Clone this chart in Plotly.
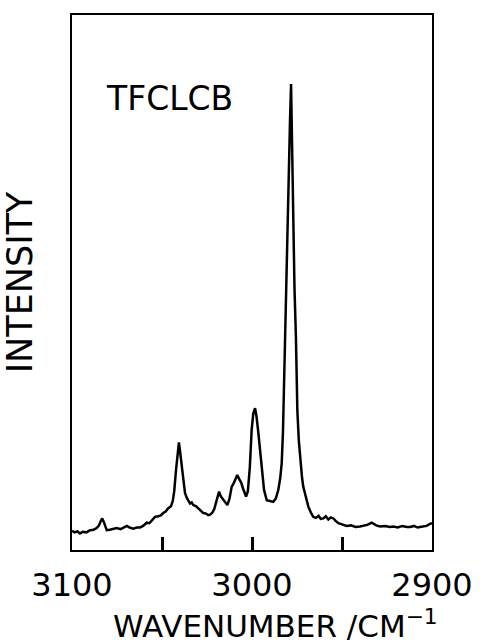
import plotly.graph_objects as go

# Raman spectrum of TFCLCB (wavenumber in cm^-1, intensity in arbitrary units)
wavenumber = [
    3100.0, 3098.5, 3097.0, 3095.6, 3094.0, 3092.0, 3090.0, 3088.0, 3086.3, 3085.0,
    3084.0, 3083.2, 3082.4, 3081.5, 3080.7, 3079.0, 3077.0, 3075.2, 3073.0, 3071.0,
    3069.5, 3068.0, 3066.0, 3064.0, 3062.2, 3060.5, 3058.5, 3057.0, 3055.5, 3053.9,
    3052.0, 3050.5, 3049.3, 3048.0, 3046.5, 3045.0, 3044.0, 3043.2, 3042.2, 3041.2,
    3040.6, 3040.0, 3039.1, 3038.2, 3037.2, 3036.0, 3034.4, 3033.5, 3032.6, 3031.2,
    3029.8, 3028.5, 3027.0, 3025.5, 3024.3, 3023.3, 3022.0, 3021.0, 3019.6, 3018.3,
    3017.3, 3016.0, 3014.8, 3013.7, 3012.5, 3011.3, 3010.0, 3008.2, 3007.0, 3006.0,
    3005.0, 3004.0, 3003.3, 3002.3, 3001.2, 3000.2, 2999.3, 2998.3, 2997.5, 2996.5,
    2995.6, 2994.5, 2993.3, 2991.8, 2990.0, 2988.2, 2986.8, 2985.4, 2984.3, 2983.5,
    2982.8, 2982.2, 2981.7, 2981.0, 2980.4, 2979.6, 2978.9, 2978.3, 2977.7, 2977.1,
    2976.4, 2975.6, 2974.8, 2974.0, 2973.0, 2972.2, 2971.5, 2970.0, 2968.7, 2967.3,
    2966.0, 2964.5, 2963.0, 2961.8, 2960.4, 2959.0, 2957.6, 2956.2, 2954.8, 2953.4,
    2952.0, 2950.0, 2947.4, 2945.0, 2942.5, 2940.0, 2938.0, 2936.0, 2933.5, 2931.0,
    2928.9, 2926.0, 2923.5, 2921.5, 2919.0, 2916.5, 2914.0, 2912.2, 2910.0, 2908.0,
    2906.7, 2904.5, 2903.0, 2901.1, 2900.0,
]
intensity = [
    3.6, 3.3, 3.5, 3.1, 3.4, 3.3, 3.7, 3.8, 4.1, 4.6,
    5.4, 5.9, 5.3, 4.3, 3.7, 3.8, 3.9, 4.1, 3.9, 4.2,
    4.5, 4.2, 4.0, 4.2, 4.2, 4.5, 5.1, 5.0, 5.6, 6.2,
    6.3, 6.5, 6.9, 7.2, 7.8, 8.2, 9.2, 11.0, 15.0, 18.8,
    20.1, 18.5, 15.6, 12.8, 10.6, 9.6, 8.7, 8.9, 8.4, 8.2,
    7.8, 7.5, 6.9, 6.8, 6.5, 6.6, 7.0, 7.6, 9.3, 10.9,
    10.0, 9.4, 8.8, 8.4, 9.6, 11.8, 12.6, 14.0, 13.2, 12.6,
    11.5, 10.6, 10.0, 11.0, 15.5, 22.4, 25.5, 26.5, 25.0, 22.0,
    19.3, 15.0, 11.2, 9.3, 9.1, 9.0, 9.6, 11.2, 13.5, 16.2,
    22.0, 31.8, 39.8, 49.0, 58.5, 70.0, 80.0, 87.1, 75.0, 58.5,
    49.0, 39.8, 26.0, 20.5, 16.0, 13.5, 11.8, 9.8, 8.1, 7.0,
    6.2, 6.0, 6.4, 5.8, 5.9, 6.3, 5.7, 6.1, 5.9, 5.4,
    5.0, 4.8, 4.5, 4.6, 4.3, 4.4, 4.6, 4.7, 5.1, 4.6,
    4.4, 4.5, 4.3, 4.4, 4.2, 4.5, 4.3, 4.3, 4.5, 4.2,
    4.3, 4.4, 4.5, 4.9, 5.0,
]

tick_vals = [3100, 3000, 2900]
tick_text = ["3100", "3000", "2900"]

FONT = "DejaVu Sans"

fig = go.Figure()
fig.add_trace(go.Scatter(
    x=wavenumber, y=intensity, mode="lines",
    line=dict(color="black", width=2.5),
    showlegend=False, hoverinfo="skip",
))

fig.add_annotation(
    text="TFCLCB", xref="paper", yref="paper", x=0.09, y=0.843,
    xanchor="left", yanchor="middle", showarrow=False,
    font=dict(family=FONT, size=33, color="black"),
)

# x-axis title placed slightly right of centre, as in the original figure
fig.add_annotation(
    text="WAVENUMBER /CM<sup>−1</sup>", xref="paper", yref="paper",
    x=0.565, y=-0.138, xanchor="center", yanchor="middle", showarrow=False,
    font=dict(family=FONT, size=31, color="black"),
)

fig.update_layout(
    width=480, height=644,
    margin=dict(l=72, r=48, t=15, b=94, autoexpand=False),
    paper_bgcolor="white", plot_bgcolor="white",
    font=dict(family=FONT, color="black"),
    xaxis=dict(
        range=[3100, 2900], tickvals=tick_vals, ticktext=tick_text,
        ticks="inside", ticklen=13, tickwidth=2.5, tickcolor="black",
        minor=dict(dtick=50, tick0=3000, ticks="inside", ticklen=13,
                   tickwidth=2.5, tickcolor="black", showgrid=False),
        showline=True, linewidth=2, linecolor="black", mirror=True,
        showgrid=False, zeroline=False,
        tickfont=dict(family=FONT, size=32, color="black"),
        ticklabelstandoff=6,
        automargin=False,
    ),
    yaxis=dict(
        range=[0, 100], showticklabels=False, ticks="",
        showline=True, linewidth=2, linecolor="black", mirror=True,
        showgrid=False, zeroline=False,
        title=dict(text="INTENSITY", standoff=30,
                   font=dict(family=FONT, size=35, color="black")),
        automargin=False,
    ),
)

fig.write_html("out.html")
